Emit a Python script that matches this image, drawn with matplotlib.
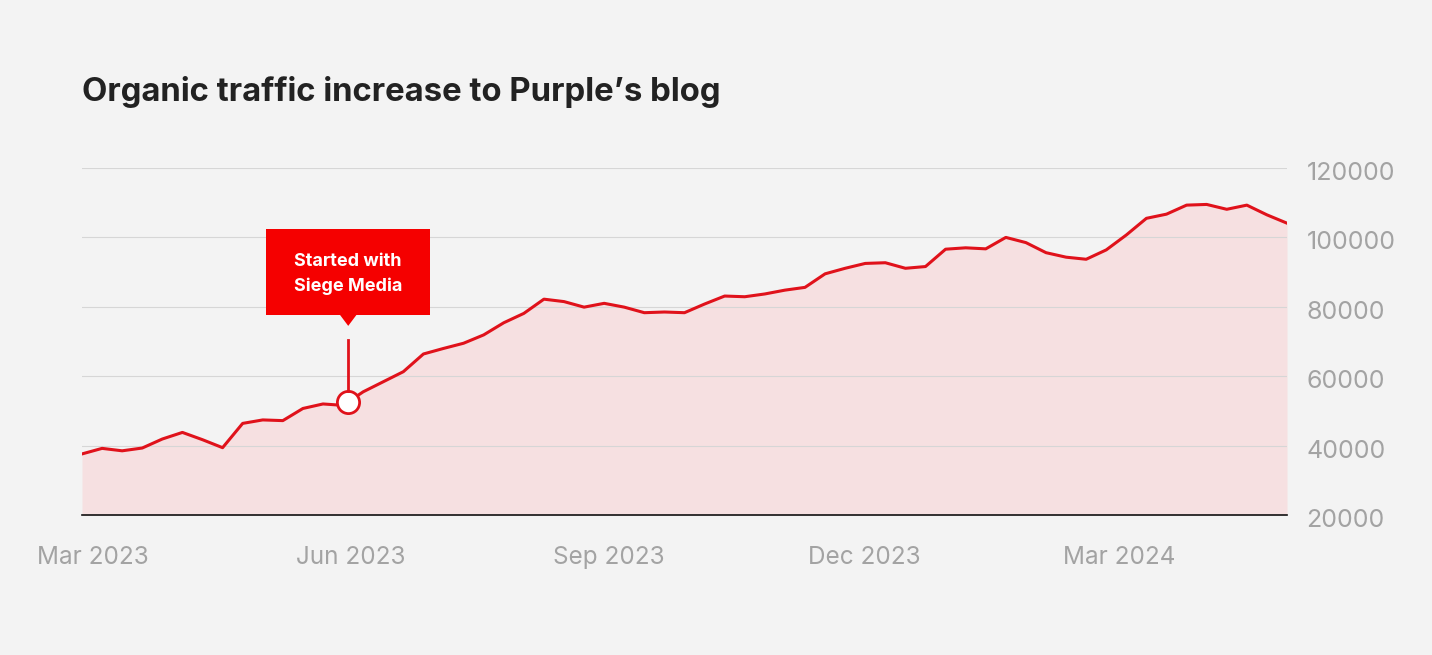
import matplotlib
matplotlib.use('Agg')
import matplotlib.pyplot as plt
import matplotlib.dates as mdates
import matplotlib.transforms as mtransforms
from matplotlib.patches import Rectangle, Polygon
from matplotlib.lines import Line2D
import numpy as np
import pandas as pd

# weekly-ish organic sessions
dates = pd.date_range('2023-02-25', '2024-04-30', periods=61)
traffic = [37600, 39200, 38500, 39300, 41900, 43800, 41700, 39400, 46400, 47400,
           47200, 50700, 52000, 51600, 55500, 58400, 61300, 66400, 68000, 69500,
           71900, 75400, 78100, 82200, 81500, 79900, 81000, 79900, 78300, 78500,
           78300, 80800, 83100, 82900, 83700, 84800, 85600, 89500, 91100, 92500,
           92700, 91100, 91600, 96600, 97000, 96700, 100000, 98500, 95600, 94300,
           93700, 96400, 100700, 105500, 106700, 109300, 109500, 108100, 109300, 106500,
           104100]

tick_dates = pd.to_datetime(['2023-03-01', '2023-06-01', '2023-09-01', '2023-12-01', '2024-03-01'])
tick_labels = ['Mar 2023', 'Jun 2023', 'Sep 2023', 'Dec 2023', 'Mar 2024']
y_ticks = [20000, 40000, 60000, 80000, 100000, 120000]

title = 'Organic traffic increase to Purple\u2019s blog'
note = 'Started with\nSiege Media'
note_date = pd.Timestamp('2023-05-31')

bg = '#f3f3f3'
red_line = '#e0121b'
red_box = '#f50000'
grey_txt = '#a3a3a3'

plt.rcParams['font.family'] = ['Inter', 'DejaVu Sans']

W, H = 1432, 655
fig = plt.figure(figsize=(W / 100, H / 100), dpi=100, facecolor=bg)
ax = fig.add_axes([82 / W, 1 - 515 / H, (1287 - 82) / W, (515 - 168) / H])
ax.set_facecolor(bg)

x = mdates.date2num(dates)
ax.fill_between(x, traffic, 20000, color='#f6e0e1', lw=0, zorder=1)
ax.plot(x, traffic, color=red_line, lw=2.2, zorder=3, solid_joinstyle='round')

ax.set_xlim(x[0], x[-1])
ax.set_ylim(20000, 120000)
ax.set_yticks(y_ticks)
ax.set_xticks(mdates.date2num(tick_dates))
ax.set_xticklabels(tick_labels)
ax.set_axisbelow(False)
ax.grid(axis='y', color='#d6d6d6', lw=0.8)
ax.grid(axis='x', visible=False)
ax.yaxis.tick_right()
ax.tick_params(axis='y', length=0, pad=14, labelsize=18, labelcolor=grey_txt)
ax.tick_params(axis='x', length=0, pad=22, labelsize=17.5, labelcolor=grey_txt)
for lbl in ax.get_yticklabels():
    lbl.set_transform(lbl.get_transform() + mtransforms.Affine2D().translate(0, -3))
for s in ['top', 'left', 'right']:
    ax.spines[s].set_visible(False)
ax.spines['bottom'].set_color('#111111')
ax.spines['bottom'].set_linewidth(1.2)
ax.spines['bottom'].set_zorder(4)

# annotation marker
nx = mdates.date2num(note_date)
ny = np.interp(nx, x, traffic)
ax.plot(nx, ny, 'o', ms=16, mfc='white', mec=red_line, mew=2.0, zorder=5)

px, py = ax.transData.transform((nx, ny))
ident = mtransforms.IdentityTransform()
fig.add_artist(Line2D([px, px], [py + 11, py + 62], transform=ident, color=red_line, lw=2.0))
fig.add_artist(Polygon([(px - 9, py + 88), (px + 9, py + 88), (px, py + 76)],
                       closed=True, transform=ident, color=red_box, lw=0))
fig.add_artist(Rectangle((px - 82, py + 87), 164, 86, transform=ident, color=red_box, lw=0))
fig.text(px, py + 128, note, transform=ident, ha='center', va='center', color='white',
         fontsize=13, fontweight='bold', linespacing=1.5)

fig.text(82 / W, 1 - 92 / H, title, fontsize=23.7, fontweight='bold', color='#222222', va='center')

fig.savefig('out.png', dpi=100, facecolor=bg)
